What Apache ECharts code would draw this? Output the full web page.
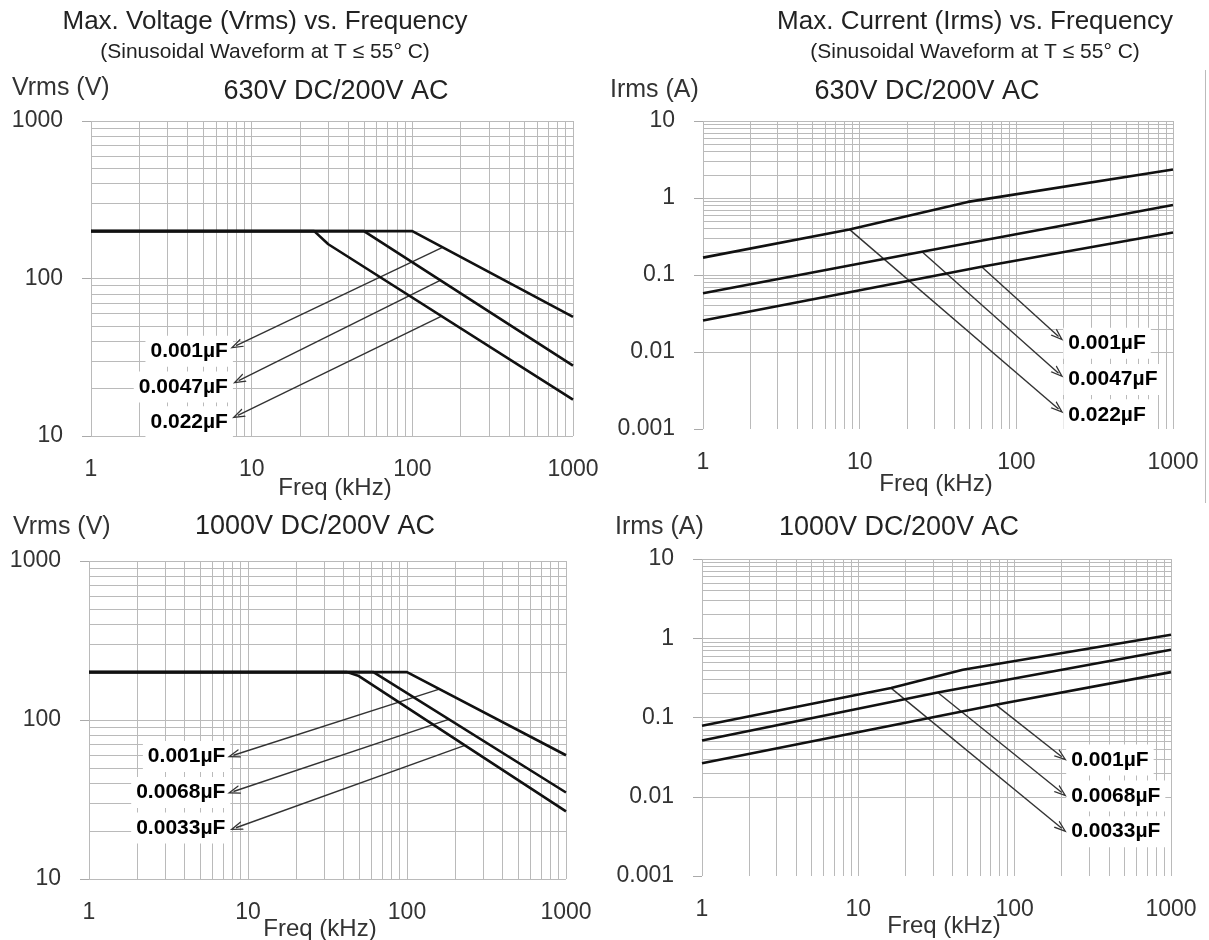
<!DOCTYPE html>
<html><head><meta charset="utf-8">
<script src="https://cdn.jsdelivr.net/npm/echarts@6/dist/echarts.min.js"></script>
<style>html,body{margin:0;padding:0;background:#fff}#c{width:1209px;height:940px}</style>
</head><body><div id="c"></div>
<script>
// ---------- tick labels ----------
const freqTicks = [1, 10, 100, 1000];
const voltTicks = [10, 100, 1000];
const currTicks = [0.001, 0.01, 0.1, 1, 10];
// log grid lines
const freqGrid = [1,2,3,4,5,6,7,8,9,10,20,30,40,50,60,70,80,90,100,200,300,400,500,600,700,800,900,1000];
const voltGrid = [10,20,30,40,50,60,70,80,90,100,200,300,400,500,600,700,800,900,1000];
const currGrid = [0.001,0.002,0.003,0.004,0.005,0.006,0.007,0.008,0.009,0.01,0.02,0.03,0.04,0.05,0.06,0.07,0.08,0.09,
                  0.1,0.2,0.3,0.4,0.5,0.6,0.7,0.8,0.9,1,2,3,4,5,6,7,8,9,10];

// ---------- 630V DC/200V AC : Vrms ----------
const v630_001_f  = [1, 100, 1000];      const v630_001_v  = [200, 200, 57];
const v630_0047_f = [1, 50, 1000];       const v630_0047_v = [200, 200, 28];
const v630_022_f  = [1, 24.5, 30, 1000]; const v630_022_v  = [200, 200, 165, 17];
// ---------- 630V DC/200V AC : Irms ----------
const i630_022_f  = [1, 8.6, 49, 1000];  const i630_022_v  = [0.168, 0.391, 0.89, 2.34];
const i630_0047_f = [1, 25, 1000];       const i630_0047_v = [0.058, 0.20, 0.81];
const i630_001_f  = [1, 60, 1000];       const i630_001_v  = [0.0256, 0.128, 0.357];
// ---------- 1000V DC/200V AC : Vrms ----------
const v1000_001_f  = [1, 100, 1000];     const v1000_001_v  = [200, 200, 60];
const v1000_0068_f = [1, 61.5, 1000];    const v1000_0068_v = [200, 200, 35];
const v1000_0033_f = [1, 42, 49.3, 1000];const v1000_0033_v = [200, 200, 190, 26.6];
// ---------- 1000V DC/200V AC : Irms ----------
const i1000_0033_f = [1, 16.2, 46.6, 1000]; const i1000_0033_v = [0.0785, 0.235, 0.40, 1.107];
const i1000_0068_f = [1, 32.2, 1000];       const i1000_0068_v = [0.0512, 0.207, 0.716];
const i1000_001_f  = [1, 75.8, 1000];       const i1000_001_v  = [0.0265, 0.1445, 0.374];

// ---------- annotation labels & arrows (freq, value) ----------
const tlLabels = [[7.7, 34.5, '0.001µF'], [7.7, 20.5, '0.0047µF'], [7.7, 12.3, '0.022µF']];
const tlArrows = [[[153, 157], [8.0, 37.5]], [[148, 97], [8.3, 22.5]], [[151, 57.5], [8.2, 13.5]]];
const trLabels = [[198, 0.013, '0.001µF'], [198, 0.0044, '0.0047µF'], [198, 0.00153, '0.022µF']];
const trArrows = [[[60, 0.128], [186, 0.0159]], [[25, 0.20], [186, 0.0053]], [[8.6, 0.391], [186, 0.00182]]];
const blLabels = [[7.8, 58.9, '0.001µF'], [7.8, 35, '0.0068µF'], [7.8, 20.9, '0.0033µF']];
const blArrows = [[[158, 156], [8.1, 60]], [[183, 101], [8.1, 35.5]], [[229, 69], [8.4, 21]]];
const brLabels = [[212, 0.029, '0.001µF'], [212, 0.0102, '0.0068µF'], [212, 0.00363, '0.0033µF']];
const brArrows = [[[75.8, 0.1445], [200, 0.032]], [[32.2, 0.207], [200, 0.0113]], [[16.2, 0.235], [200, 0.0040]]];

const SANS = '"Liberation Sans",Arial,Helvetica,sans-serif';
const fmt = v => String(parseFloat(Number(v).toPrecision(6)));
const pairs = (f, v) => f.map((x, i) => [x, v[i]]);
const CHEVRON = 'path://M5,0 L10,12 L8.5,12 L5,3.6 L1.5,12 L0,12 Z';

const grids = [
  {left: 91, top: 121, width: 482, height: 315},
  {left: 703, top: 121, width: 470, height: 308},
  {left: 89, top: 561, width: 477, height: 318},
  {left: 702, top: 559, width: 469, height: 317}
];
const yRanges = [[10, 1000, voltGrid], [0.001, 10, currGrid], [10, 1000, voltGrid], [0.001, 10, currGrid]];

const xAxes = grids.map((g, i) => ({
  type: 'log', logBase: 10, gridIndex: i, min: freqTicks[0], max: freqTicks[freqTicks.length - 1],
  axisLine: {show: false}, axisTick: {show: false}, splitLine: {show: false},
  axisLabel: {formatter: fmt, fontSize: 23, fontFamily: SANS, color: '#333', margin: 22,
              showMinLabel: true, showMaxLabel: true}
}));
const yAxes = grids.map((g, i) => ({
  type: 'log', logBase: 10, gridIndex: i, min: yRanges[i][0], max: yRanges[i][1],
  axisLine: {show: false},
  axisTick: {show: true, length: 9, lineStyle: {color: '#aaa', width: 1}},
  splitLine: {show: false},
  axisLabel: {formatter: fmt, fontSize: 23, fontFamily: SANS, color: '#333', margin: 28,
              showMinLabel: true, showMaxLabel: true}
}));

const series = [];
function addPanel(i, curves, labels, arrows, labelSide) {
  const yg = yRanges[i][2];
  series.push({
    type: 'line', xAxisIndex: i, yAxisIndex: i, data: [[1, yRanges[i][0]]], symbol: 'none',
    lineStyle: {opacity: 0}, silent: true, z: 1,
    markLine: {
      z: 1, silent: true, symbol: ['none', 'none'], label: {show: false}, animation: false,
      lineStyle: {color: '#bababa', width: 1, type: 'solid'},
      emphasis: {disabled: true},
      data: freqGrid.map(x => ({xAxis: x})).concat(yg.map(y => ({yAxis: y})))
    }
  });
  series.push({
    type: 'scatter', xAxisIndex: i, yAxisIndex: i, data: labels, symbolSize: 1,
    itemStyle: {color: 'rgba(0,0,0,0)'}, silent: true, z: 3,
    labelLayout: {hideOverlap: false},
    label: {show: true, formatter: p => p.data[2], position: labelSide, distance: 0,
            fontSize: 21, fontWeight: 'bold', fontFamily: SANS, color: '#000',
            textBorderWidth: 0, textShadowBlur: 0, opacity: 1,
            backgroundColor: '#fff', padding: [5, 5, 5, 5]}
  });
  series.push({
    type: 'line', xAxisIndex: i, yAxisIndex: i, data: [[1, yRanges[i][0]]], symbol: 'none',
    lineStyle: {opacity: 0}, silent: true, z: 4,
    markLine: {
      z: 4, silent: true, symbol: ['none', CHEVRON], symbolSize: [9, 13], label: {show: false}, animation: false,
      lineStyle: {color: '#333', width: 1.4, type: 'solid'},
      itemStyle: {color: '#333'},
      emphasis: {disabled: true},
      data: arrows.map(a => [{coord: a[0]}, {coord: a[1]}])
    }
  });
  curves.forEach(c => series.push({
    type: 'line', xAxisIndex: i, yAxisIndex: i, data: c, symbol: 'none', silent: true, z: 5,
    lineStyle: {color: '#111', width: 2.6}
  }));
}
addPanel(0, [pairs(v630_001_f, v630_001_v), pairs(v630_0047_f, v630_0047_v), pairs(v630_022_f, v630_022_v)], tlLabels, tlArrows, 'left');
addPanel(1, [pairs(i630_022_f, i630_022_v), pairs(i630_0047_f, i630_0047_v), pairs(i630_001_f, i630_001_v)], trLabels, trArrows, 'right');
addPanel(2, [pairs(v1000_001_f, v1000_001_v), pairs(v1000_0068_f, v1000_0068_v), pairs(v1000_0033_f, v1000_0033_v)], blLabels, blArrows, 'left');
addPanel(3, [pairs(i1000_0033_f, i1000_0033_v), pairs(i1000_0068_f, i1000_0068_v), pairs(i1000_001_f, i1000_001_v)], brLabels, brArrows, 'right');

function txt(text, x, y, size, color, align) {
  return {type: 'text', x: x, y: y, silent: true, z: 10,
    style: {text: text, font: size + 'px ' + SANS, fill: color || '#222',
            textAlign: align || 'center', textVerticalAlign: 'middle', verticalAlign: 'middle'}};
}
const graphics = [
  txt('Max. Voltage (Vrms) vs. Frequency', 265, 22, 26, '#222'),
  txt('(Sinusoidal Waveform at T ≤ 55° C)', 265, 52, 21, '#222'),
  txt('Max. Current (Irms) vs. Frequency', 975, 22, 26, '#222'),
  txt('(Sinusoidal Waveform at T ≤ 55° C)', 975, 52, 21, '#222'),
  txt('630V DC/200V AC', 336, 92, 27, '#222'),
  txt('630V DC/200V AC', 927, 92, 27, '#222'),
  txt('1000V DC/200V AC', 315, 527, 27, '#222'),
  txt('1000V DC/200V AC', 899, 528, 27, '#222'),
  txt('Vrms (V)', 12, 88, 25, '#333', 'left'),
  txt('Irms (A)', 610, 90, 25, '#333', 'left'),
  txt('Vrms (V)', 13, 527, 25, '#333', 'left'),
  txt('Irms (A)', 615, 527, 25, '#333', 'left'),
  txt('Freq (kHz)', 335, 488, 24, '#333'),
  txt('Freq (kHz)', 936, 484, 24, '#333'),
  txt('Freq (kHz)', 320, 929, 24, '#333'),
  txt('Freq (kHz)', 944, 926, 24, '#333'),
  {type: 'line', silent: true, shape: {x1: 1205.5, y1: 70, x2: 1205.5, y2: 503}, style: {stroke: '#bbb', lineWidth: 1}}
];

const chart = echarts.init(document.getElementById('c'), null, {renderer: 'canvas'});
chart.setOption({
  animation: false,
  backgroundColor: '#fff',
  grid: grids,
  xAxis: xAxes,
  yAxis: yAxes,
  series: series,
  graphic: graphics
});
</script></body></html>
